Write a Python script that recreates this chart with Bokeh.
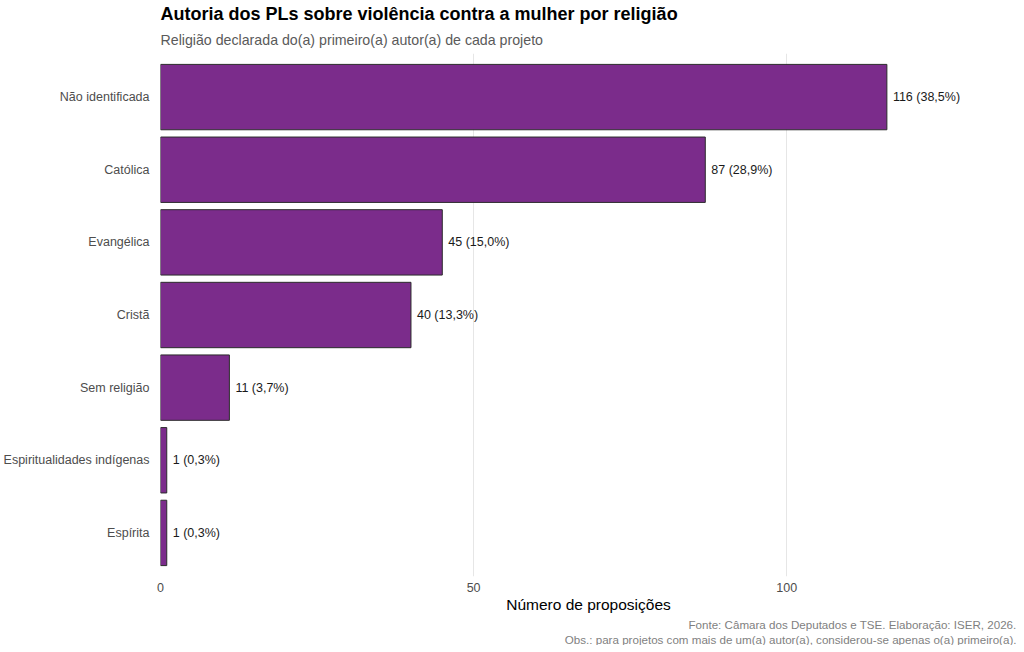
from bokeh.plotting import figure
from bokeh.models import Range1d, FixedTicker, Title, ColumnDataSource
from bokeh.embed import file_html
from bokeh.resources import INLINE
from bokeh.core.properties import value

categories = ["Não identificada", "Católica", "Evangélica", "Cristã", "Sem religião",
              "Espiritualidades indígenas", "Espírita"]
counts = [116, 87, 45, 40, 11, 1, 1]
pct_labels = ["38,5%", "28,9%", "15,0%", "13,3%", "3,7%", "0,3%", "0,3%"]
x_ticks = [0, 50, 100]
X_MAX = 136.7

FONT = "Liberation Sans"
n = len(categories)
ypos = [n - i for i in range(n)]
labels = [f"{c} ({p})" for c, p in zip(counts, pct_labels)]

src = ColumnDataSource(dict(y=ypos, v=counts, lab=labels))

p = figure(width=1016, height=645, output_backend="svg", toolbar_location=None,
           x_range=Range1d(0, X_MAX), y_range=Range1d(0.4, n + 0.6),
           min_border_left=158, min_border_right=0, min_border_top=0, min_border_bottom=0)
p.outline_line_color = None
p.background_fill_color = "white"
p.title.visible = False

p.hbar(y="y", left=0, right="v", height=0.9, source=src,
       fill_color="#7B2C8B", line_color="#2b2b2b", line_width=1)
p.text(x="v", y="y", text="lab", source=src, x_offset=6,
       text_baseline="middle", text_align="left", text_font_size="12.5px",
       text_font=value(FONT), text_color="#1a1a1a")

# axes
p.xaxis.ticker = FixedTicker(ticks=x_ticks)
p.xgrid.ticker = FixedTicker(ticks=x_ticks)
p.xgrid.grid_line_color = "#e6e6e6"
p.ygrid.grid_line_color = None
p.yaxis.ticker = FixedTicker(ticks=ypos)
p.yaxis.major_label_overrides = {y: c for y, c in zip(ypos, categories)}
for ax in (p.xaxis, p.yaxis):
    ax.axis_line_color = None
    ax.major_tick_line_color = None
    ax.minor_tick_line_color = None
    ax.major_label_text_font = FONT
    ax.major_label_text_font_size = "12.5px"
    ax.major_label_text_color = "#4d4d4d"
p.yaxis.major_label_standoff = 5
p.xaxis.major_label_standoff = 0
p.xaxis.axis_label = "Número de proposições"
p.xaxis.axis_label_text_font = FONT
p.xaxis.axis_label_text_font_style = "normal"
p.xaxis.axis_label_text_font_size = "15.5px"
p.xaxis.axis_label_text_color = "#000000"
p.xaxis.axis_label_standoff = 1

# titles
sub = Title(text="Religião declarada do(a) primeiro(a) autor(a) de cada projeto",
            text_font=FONT, text_font_size="14.2px", text_font_style="normal",
            text_color="#5a5a5a", align="left", offset=0, standoff=11)
main = Title(text="Autoria dos PLs sobre violência contra a mulher por religião",
             text_font=FONT, text_font_size="18px", text_font_style="bold",
             text_color="#000000", align="left", offset=0, standoff=2)
p.add_layout(sub, "above")
p.add_layout(main, "above")

foot_texts = ["Fonte: Câmara dos Deputados e TSE. Elaboração: ISER, 2026.",
              "Obs.: para projetos com mais de um(a) autor(a), considerou-se apenas o(a) primeiro(a)."]
for txt in foot_texts:
    p.add_layout(Title(text=txt, text_font=FONT, text_font_size="11.6px",
                       text_font_style="normal", text_color="#7f7f7f",
                       align="right", offset=0, standoff=0), "below")

open("out.html", "w").write(file_html(p, INLINE))
